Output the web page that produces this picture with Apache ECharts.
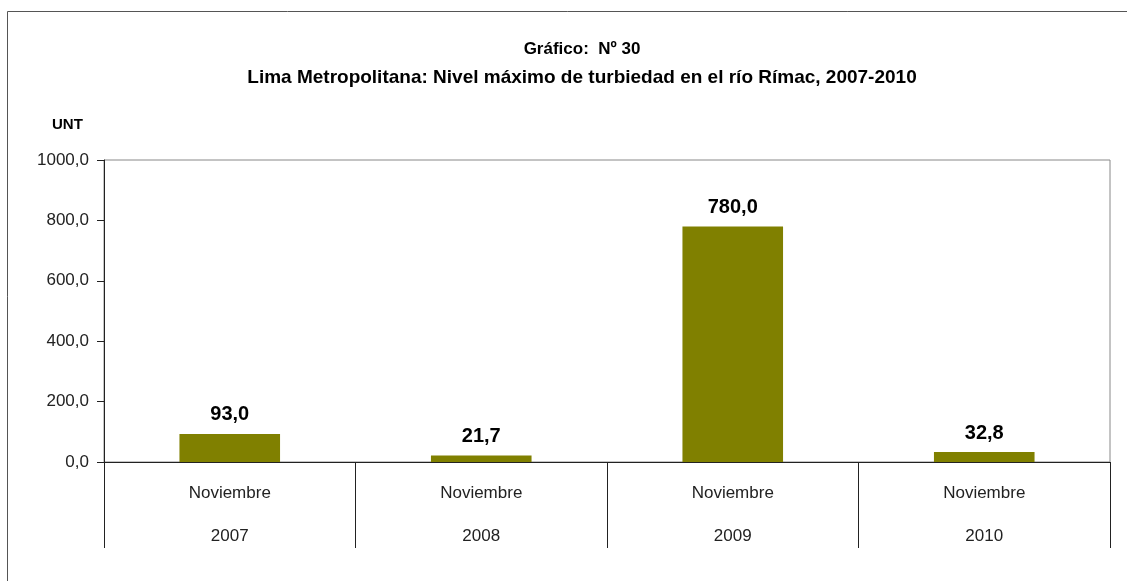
<!DOCTYPE html>
<html>
<head>
<meta charset="utf-8">
<title>Turbiedad río Rímac</title>
<script src="https://cdn.jsdelivr.net/npm/echarts@6/dist/echarts.min.js"></script>
<style>
	html, body { margin: 0; padding: 0; background: #fff; }
	#chart { width: 1127px; height: 581px; }
</style>
</head>
<body>
<div id="chart"></div>
<script>
	// datos
	var meses = ['Noviembre', 'Noviembre', 'Noviembre', 'Noviembre'];
	var anios = ['2007', '2008', '2009', '2010'];
	var turbiedad = [93.0, 21.7, 780.0, 32.8];
	var titulo1 = 'Gráfico:  Nº 30';
	var titulo2 = 'Lima Metropolitana: Nivel máximo de turbiedad en el río Rímac, 2007-2010';

	var fuente = '"Liberation Sans Narrow", "Arial Narrow", "Liberation Sans", sans-serif';
	var coma = function (v) { return Number(v).toFixed(1).replace('.', ','); };

	var categorias = meses.map(function (m, i) { return m + '\n' + anios[i]; });

	var chart = echarts.init(document.getElementById('chart'));
	chart.setOption({
		animation: false,
		textStyle: { fontFamily: fuente },
		title: [{
			text: titulo1,
			left: 577, top: 36, textAlign: 'center',
			textStyle: { fontFamily: fuente, fontSize: 17, fontWeight: 'bold', color: '#000' }
		}, {
			text: titulo2,
			left: 577, top: 63, textAlign: 'center',
			textStyle: { fontFamily: fuente, fontSize: 19, fontWeight: 'bold', color: '#000' }
		}, {
			text: 'UNT',
			left: 47, top: 112,
			textStyle: { fontFamily: fuente, fontSize: 15, fontWeight: 'bold', color: '#000' }
		}],
		graphic: [{
			type: 'rect',
			shape: { x: 7.5, y: 11.5, width: 1300, height: 800 },
			style: { fill: 'none', stroke: '#555', lineWidth: 1 },
			silent: true
		}],
		grid: {
			left: 104, right: 17, top: 160, bottom: 119,
			show: true, borderColor: '#888', borderWidth: 1
		},
		xAxis: {
			type: 'category',
			data: categorias,
			axisLine: { lineStyle: { color: '#222', width: 1 } },
			axisTick: { show: true, length: 86, lineStyle: { color: '#222' } },
			axisLabel: {
				margin: 10, lineHeight: 43, fontSize: 17, color: '#222', fontFamily: fuente
			}
		},
		yAxis: {
			type: 'value',
			min: 0, max: 1000, interval: 200,
			splitLine: { show: false },
			axisLine: { show: true, lineStyle: { color: '#222', width: 1 } },
			axisTick: { show: true, length: 7, lineStyle: { color: '#222' } },
			axisLabel: {
				margin: 15, fontSize: 17, color: '#222', fontFamily: fuente,
				formatter: coma
			}
		},
		series: [{
			type: 'bar',
			data: turbiedad,
			barWidth: '40%',
			itemStyle: { color: '#808000' },
			label: {
				show: true, position: 'top', distance: 9,
				fontSize: 20, fontWeight: 'bold', color: '#000', fontFamily: fuente,
				formatter: function (p) { return coma(p.value); }
			}
		}]
	});
</script>
</body>
</html>
